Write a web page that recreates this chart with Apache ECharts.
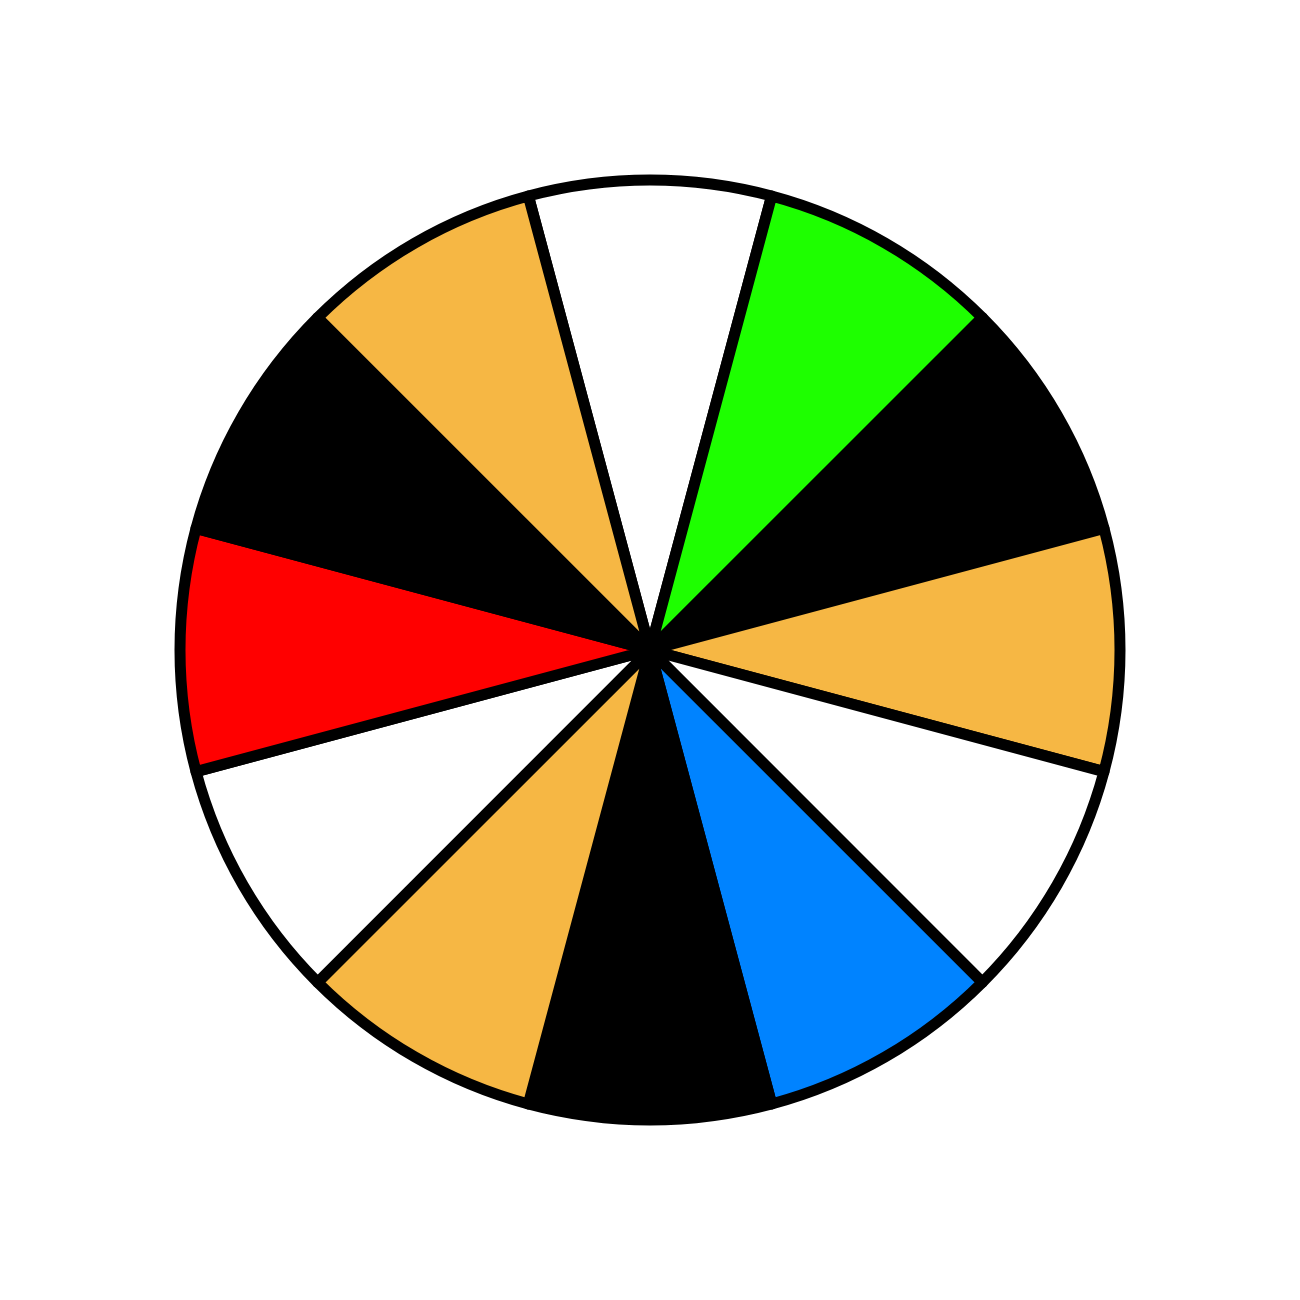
<!DOCTYPE html>
<html>
<head>
<meta charset="utf-8">
<script src="https://cdn.jsdelivr.net/npm/echarts@6/dist/echarts.min.js"></script>
<style>html,body{margin:0;padding:0;background:#fff}#c{width:1300px;height:1300px}</style>
</head>
<body>
<div id="c"></div>
<script>
const categories = ['S1','S2','S3','S4','S5','S6','S7','S8','S9','S10','S11','S12'];
const values = [1,1,1,1,1,1,1,1,1,1,1,1];
const colors = ['#FFFFFF','#1EFF00','#000000','#F6B744','#FFFFFF','#0083FF','#000000','#F6B744','#FFFFFF','#FF0000','#000000','#F6B744'];

const chart = echarts.init(document.getElementById('c'), null, {renderer:'canvas'});
chart.setOption({
  animation: false,
  backgroundColor: '#ffffff',
  series: [{
    type: 'pie',
    center: [650, 650],
    radius: [0, 470],
    startAngle: 105,
    clockwise: true,
    label: {show: false},
    labelLine: {show: false},
    emphasis: {disabled: true},
    data: categories.map((n, i) => ({
      name: n, value: values[i],
      itemStyle: {color: colors[i], borderColor: '#000', borderWidth: 11, borderJoin: 'round'}
    }))
  }]
});
</script>
</body>
</html>
